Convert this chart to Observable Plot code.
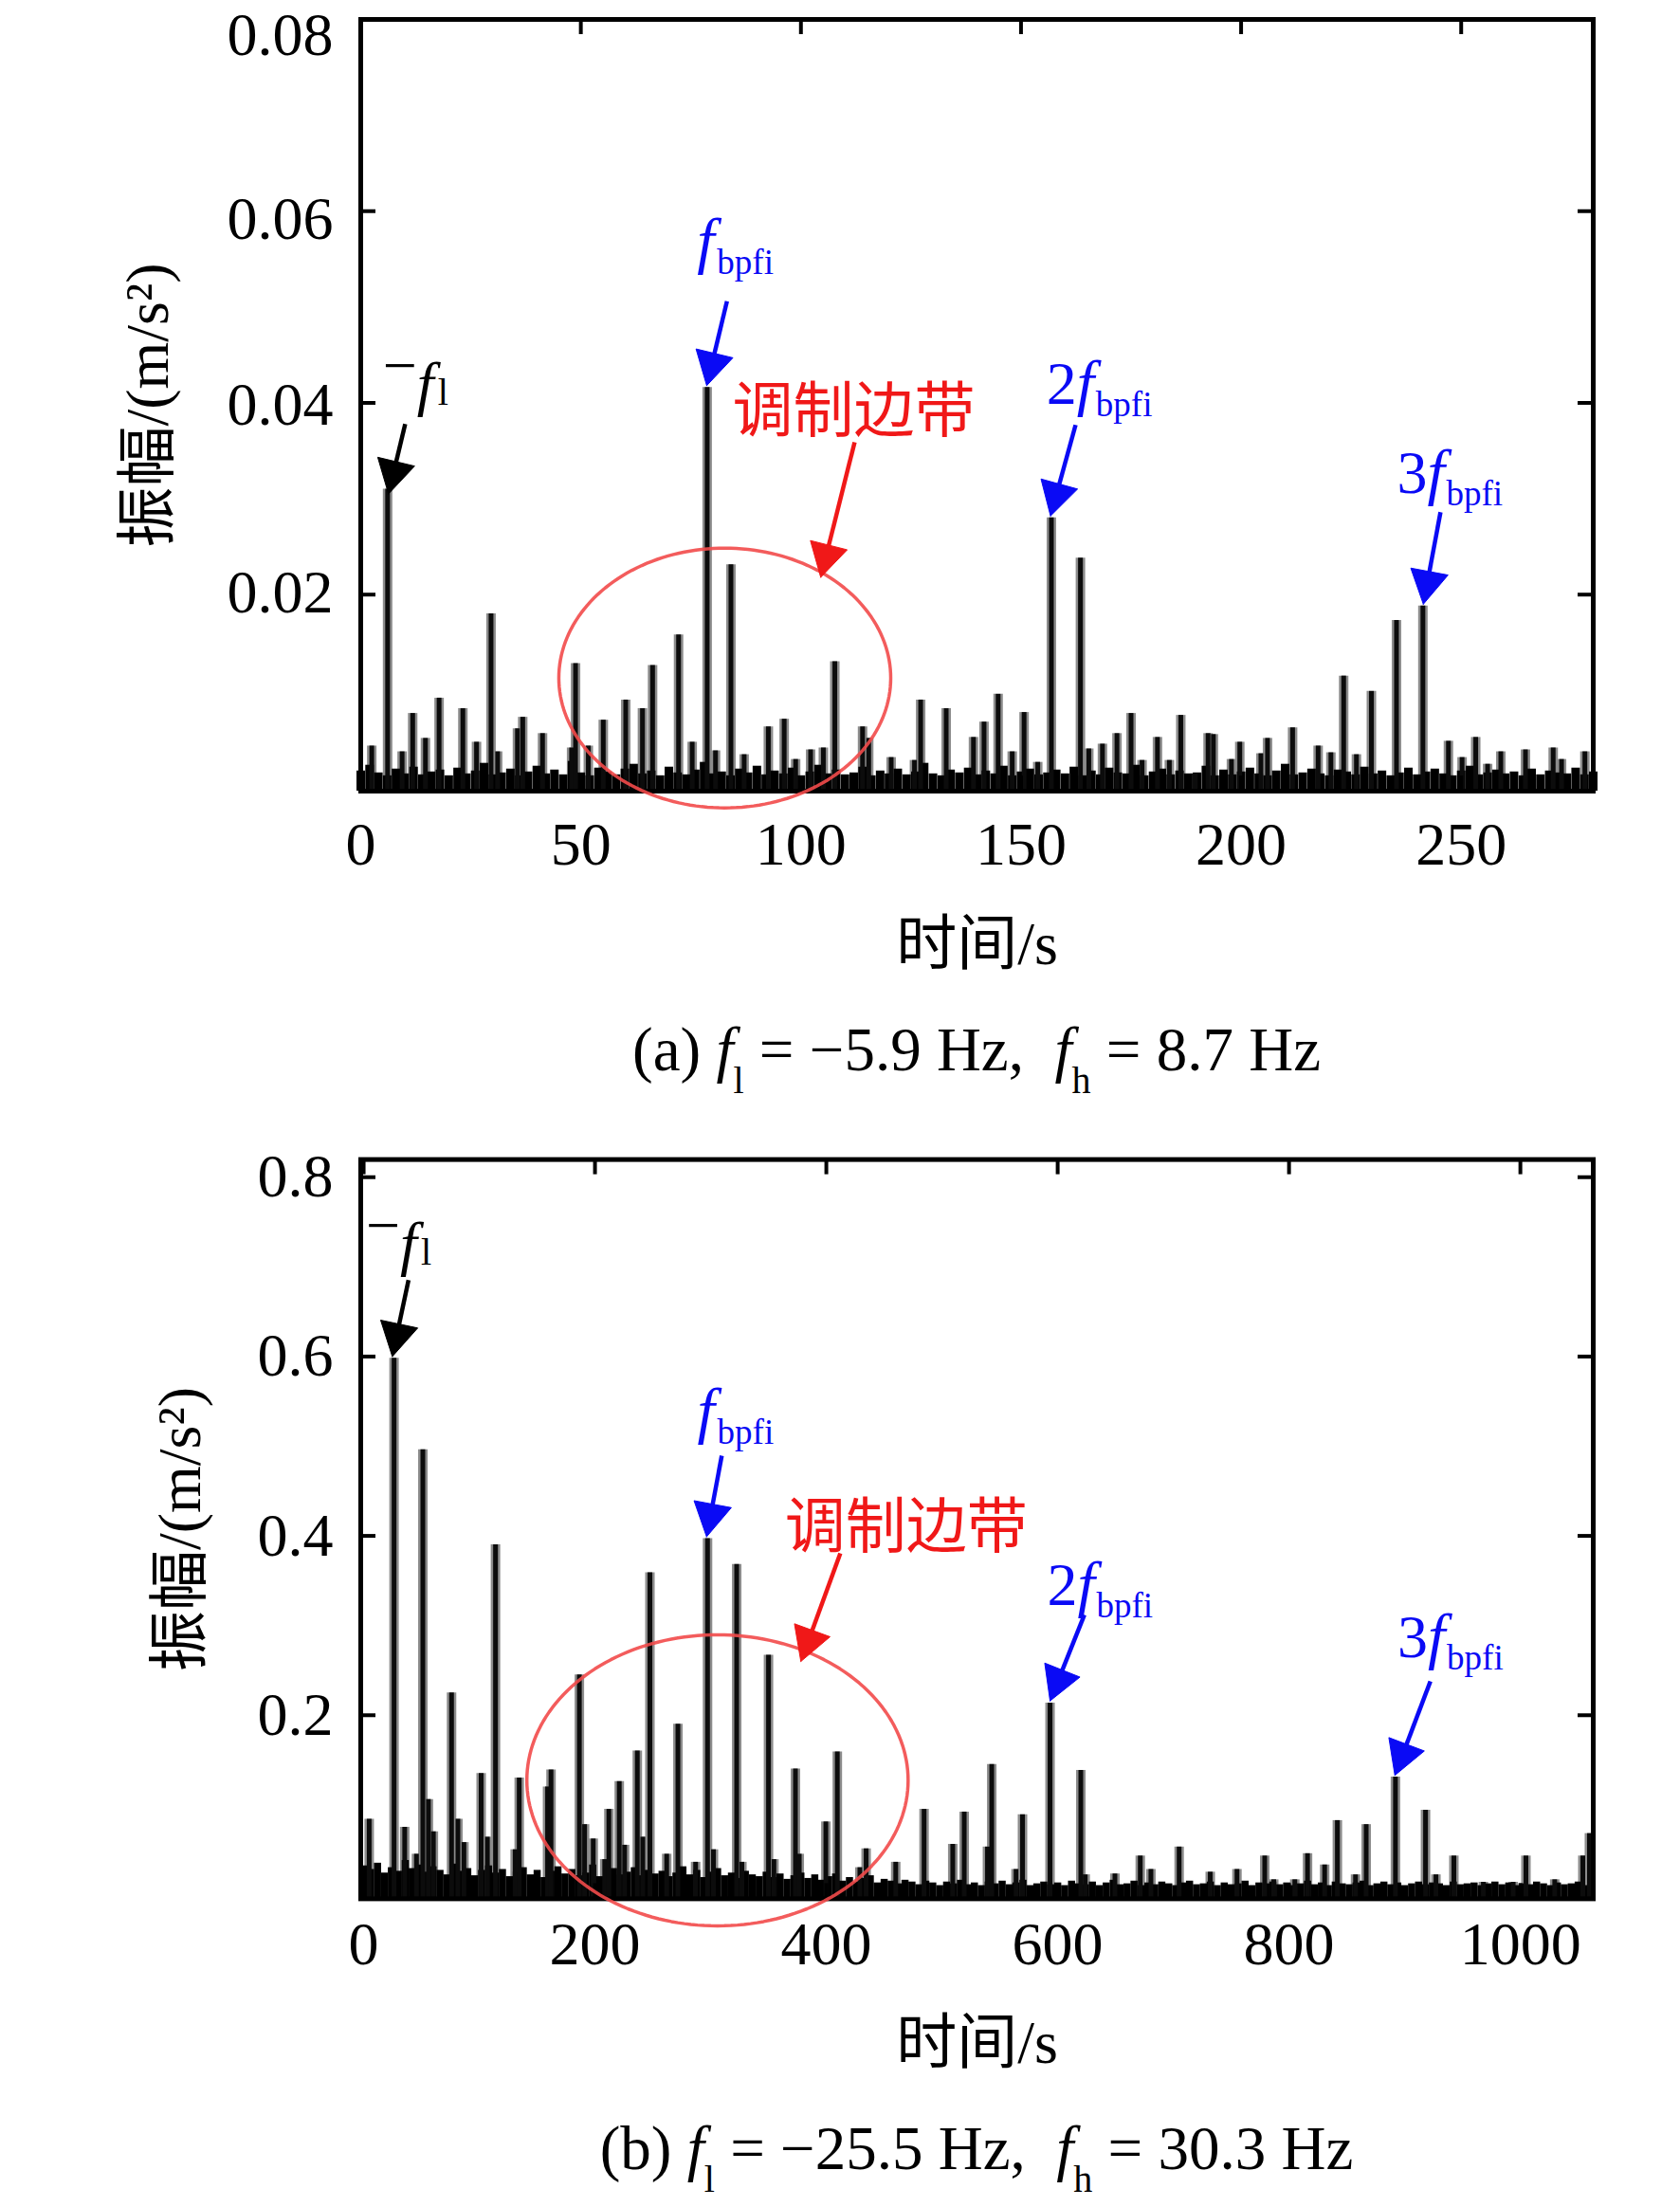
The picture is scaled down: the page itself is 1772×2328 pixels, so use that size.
<!DOCTYPE html>
<html><head><meta charset="utf-8">
<script src="https://cdn.jsdelivr.net/npm/d3@7"></script>
<script src="https://cdn.jsdelivr.net/npm/@observablehq/plot@0.6"></script>
<style>
html,body{margin:0;padding:0;background:#fff;}
#root{position:relative;width:1772px;height:2328px;background:#fff;overflow:hidden;font-family:'Liberation Serif','Noto Sans CJK SC',serif;}
.panel{position:absolute;left:0;}
.cap{position:absolute;left:380px;width:1300px;text-align:center;font-size:65px;line-height:64px;color:#000;white-space:nowrap;}
.cap i{font-style:italic;}
.cap sub{font-size:40px;vertical-align:-0.6em;line-height:0;}
</style>
</head><body>
<div id="root"></div>
<script>
// ---------- Panel (a) data ----------
const aPeakX = [2.5,6.1,9.4,11.8,14.7,17.8,23.2,26.3,29.6,31.1,35.6,36.8,41.3,47.9,48.8,51.7,55.1,60.2,64.0,66.3,72.2,75.3,78.7,80.6,84.1,87.1,92.6,96.2,98.8,102.2,105.1,107.7,114,115.4,120.5,125.8,127.2,133,139.2,141.6,144.8,148,150.7,153.8,156.9,163.5,165.4,168.5,171.8,175,177.5,181,183.7,186.3,189.6,192.5,193.7,197.8,199.7,204.5,206,211.7,217.5,220.4,223.3,226.2,229.6,235.3,241.3,247.1,250.2,253.3,256,259,264.6,270.9,272.8,278.1];
const aPeakY = [0.0042,0.031,0.0036,0.0076,0.005,0.0092,0.0081,0.0046,0.018,0.0036,0.006,0.0072,0.0055,0.004,0.0128,0.0042,0.0069,0.009,0.0081,0.0126,0.0158,0.0046,0.0416,0.0037,0.0231,0.0033,0.0062,0.007,0.0028,0.0038,0.004,0.013,0.0062,0.005,0.003,0.0027,0.009,0.0081,0.0051,0.0067,0.0096,0.0036,0.0077,0.0025,0.028,0.0238,0.0039,0.0044,0.0055,0.0076,0.0027,0.0051,0.0027,0.0074,0.0013,0.0055,0.0054,0.0028,0.0046,0.0034,0.005,0.0061,0.0042,0.0035,0.0115,0.0033,0.0099,0.0173,0.0188,0.0047,0.003,0.0051,0.0023,0.0036,0.0038,0.004,0.0028,0.0036];
const aFloorStep = 2;
const aFloor = [
0.0016,0.0022,0.0014,0.0011,0.0018,0.0013,0.0020,0.0012,0.0015,0.0017,
0.0011,0.0019,0.0013,0.0016,0.0024,0.0012,0.0014,0.0018,0.0011,0.0015,
0.0021,0.0013,0.0017,0.0012,0.0026,0.0014,0.0011,0.0019,0.0015,0.0012,
0.0018,0.0023,0.0013,0.0016,0.0011,0.0020,0.0014,0.0012,0.0017,0.0025,
0.0013,0.0015,0.0011,0.0018,0.0014,0.0021,0.0012,0.0016,0.0013,0.0019,
0.0011,0.0015,0.0022,0.0013,0.0017,0.0012,0.0014,0.0020,0.0011,0.0016,
0.0013,0.0018,0.0012,0.0015,0.0024,0.0013,0.0011,0.0017,0.0014,0.0019,
0.0012,0.0016,0.0013,0.0021,0.0011,0.0015,0.0018,0.0012,0.0014,0.0017,
0.0013,0.0020,0.0011,0.0016,0.0012,0.0019,0.0014,0.0013,0.0022,0.0011,
0.0015,0.0018,0.0012,0.0016,0.0013,0.0014,0.0021,0.0011,0.0017,0.0012,
0.0015,0.0019,0.0013,0.0011,0.0016,0.0023,0.0012,0.0014,0.0018,0.0013,
0.0011,0.0017,0.0015,0.0012,0.0020,0.0013,0.0016,0.0011,0.0014,0.0019,
0.0012,0.0015,0.0018,0.0013,0.0011,0.0016,0.0021,0.0012,0.0014,0.0017,
0.0013,0.0015,0.0011,0.0018,0.0012,0.0016,0.0014,0.0013,0.0019,0.0012,
0.0015];
const aXTicks = [0,50,100,150,200,250];
const aYTicks = [0.02,0.04,0.06,0.08];

// ---------- Panel (b) data ----------
const bPeakX = [4.8,26.3,35.5,45.7,51.2,56,60.3,76,81.5,86.7,101.6,107,114,131,134.5,159,162,186.5,191,198.5,208.4,212,221,225.6,236.6,241.3,247.5,262,271.7,287,297.3,302.4,322.5,327,350,354.7,373.3,376.6,399.6,409.5,429,434.4,460,484.5,509.3,519.2,539.3,543,564,569.6,593.4,620,623.8,649.5,671.4,680.6,705,731.9,755,779,786.8,805,816,830.8,841.8,857.5,866.7,892,918,927,942.5,968,993.8,1004.8,1029.7,1054,1059.7];
const bPeakY = [0.084,0.598,0.075,0.045,0.496,0.106,0.07,0.225,0.084,0.058,0.135,0.064,0.39,0.05,0.13,0.12,0.139,0.245,0.078,0.062,0.039,0.095,0.126,0.055,0.16,0.064,0.359,0.045,0.19,0.036,0.397,0.05,0.368,0.036,0.267,0.039,0.14,0.045,0.081,0.159,0.03,0.051,0.036,0.095,0.056,0.092,0.053,0.145,0.028,0.089,0.2135,0.1385,0.022,0.023,0.043,0.028,0.053,0.025,0.028,0.043,0.0165,0.0165,0.0456,0.033,0.0825,0.022,0.078,0.131,0.094,0.022,0.043,0.0137,0.0137,0.043,0.0165,0.043,0.068];
const bFloorStep = 6;
const bFloor = [
0.032,0.028,0.035,0.024,0.030,0.026,0.038,0.029,0.033,0.025,
0.031,0.027,0.022,0.034,0.026,0.029,0.021,0.027,0.032,0.024,
0.028,0.020,0.025,0.030,0.022,0.027,0.019,0.026,0.031,0.023,
0.028,0.021,0.024,0.033,0.020,0.026,0.029,0.022,0.025,0.030,
0.021,0.027,0.023,0.026,0.020,0.024,0.031,0.022,0.027,0.019,
0.025,0.029,0.021,0.024,0.018,0.026,0.022,0.020,0.025,0.019,
0.023,0.017,0.021,0.024,0.018,0.022,0.016,0.020,0.023,0.015,
0.019,0.014,0.018,0.021,0.013,0.017,0.015,0.012,0.016,0.014,
0.011,0.015,0.013,0.010,0.014,0.012,0.016,0.011,0.013,0.010,
0.014,0.012,0.015,0.011,0.013,0.016,0.010,0.012,0.014,0.011,
0.013,0.010,0.015,0.012,0.011,0.014,0.010,0.013,0.016,0.011,
0.012,0.015,0.010,0.013,0.011,0.014,0.012,0.010,0.013,0.015,
0.011,0.012,0.014,0.010,0.013,0.011,0.012,0.015,0.010,0.013,
0.012,0.014,0.011,0.013,0.010,0.012,0.015,0.011,0.013,0.010,
0.014,0.012,0.011,0.013,0.015,0.010,0.012,0.014,0.011,0.013,
0.010,0.012,0.014,0.011,0.013,0.012,0.010,0.014,0.011,0.012,
0.013,0.010,0.012,0.014,0.011,0.013,0.010,0.012,0.011,0.014,
0.012,0.010,0.013,0.011,0.012,0.014,0.010,0.013];
const bXTicks = [0,200,400,600,800,1000];
const bYTicks = [0.2,0.4,0.6,0.8];

// ---------- text ----------
const yLabel = "振幅/(m/s²)";
const xLabel = "时间/s";
const sideband = "调制边带";

// ---------- annotations (data coordinates) ----------
const aAnno = {
  minusF: {x:5.0, y:0.0399, tail:[10.1,0.0378], tip:[6.3,0.0305]},
  f1: {x:74.7, y:0.0547, tail:[83.2,0.0506], tip:[78.6,0.0418]},
  f2: {x:155.8, y:0.0399, tail:[162.4,0.0377], tip:[156.7,0.0282]},
  f3: {x:235.4, y:0.0306, tail:[245.3,0.0286], tip:[241.4,0.0190]},
  sb: {x:112, y:0.0370, tail:[112.2,0.0359], tip:[104.5,0.0218]},
  ell: {cx:82.7, cy:0.0113, rx:37.7, ry:0.01355}
};
const bAnno = {
  minusF: {x:2.1, y:0.703, tail:[38.8,0.6853], tip:[24.8,0.600]},
  f1: {x:282, y:0.516, tail:[309.6,0.4894], tip:[296.5,0.399]},
  f2: {x:590.9, y:0.3224, tail:[623.1,0.312], tip:[593.4,0.216]},
  f3: {x:893.8, y:0.265, tail:[922.2,0.2378], tip:[891.5,0.133]},
  sb: {x:469, y:0.387, tail:[412.1,0.3805], tip:[378,0.26]},
  ell: {cx:305.9, cy:0.1274, rx:164.8, ry:0.1623}
};

const FONT = "'Liberation Serif','Noto Sans CJK SC',serif";
const BLUE = "#0a0af5", RED = "#f01818";

function textPart(x, y, t, {dx=0, base=0, fs=64, italic=false, fill="#000", anchor="start"}={}) {
  return Plot.text([{x, y}], {x:"x", y:"y", text: () => t, textAnchor: anchor, lineAnchor: "bottom",
    dx, dy: base, fontSize: fs, fontStyle: italic ? "italic" : "normal", fill, fontFamily: FONT});
}

function arrowMarks(tail, tip, color, sx, sy) {
  const T = [sx(tip[0]), sy(tip[1])], S = [sx(tail[0]), sy(tail[1])];
  const vx = T[0]-S[0], vy = T[1]-S[1], L = Math.hypot(vx, vy);
  const ux = vx/L, uy = vy/L, nx = -uy, ny = ux;
  const headL = 35, headW = 40;
  const B = [T[0]-ux*headL, T[1]-uy*headL];
  const tri = [T, [B[0]+nx*headW/2, B[1]+ny*headW/2], [B[0]-nx*headW/2, B[1]-ny*headW/2], T]
    .map(p => ({x: sx.invert(p[0]), y: sy.invert(p[1])}));
  return [
    Plot.link([{x1: tail[0], y1: tail[1], x2: sx.invert(B[0]+ux*4), y2: sy.invert(B[1]+uy*4)}],
      {x1:"x1", y1:"y1", x2:"x2", y2:"y2", stroke: color, strokeWidth: 4.5}),
    Plot.line(tri, {x:"x", y:"y", fill: color, stroke: color, strokeWidth: 1})
  ];
}

function panel(cfg) {
  const width = 1772, {height, mt, mb, ml, mr, xd, yd, anno} = cfg;
  const iw = width - ml - mr, ih = height - mt - mb;
  const sx = d3.scaleLinear(xd, [ml, width - mr]);
  const sy = d3.scaleLinear(yd, [height - mb, mt]);
  const peaks = cfg.px.map((x, i) => ({x, y: cfg.py[i]}));
  const floor = cfg.floor.map((v, i) => ({x: i * cfg.step, y: v}));
  const ellipse = d3.range(0, 181).map(k => {
    const t = k / 180 * 2 * Math.PI;
    return {x: anno.ell.cx + anno.ell.rx * Math.cos(t), y: anno.ell.cy + anno.ell.ry * Math.sin(t)};
  });
  const yAxes = cfg.yt.map((t, i) => Plot.axisY([t], {tickSize: 0, tickPadding: 29, label: null, fontSize: 64,
    dy: cfg.ytdy[i], tickFormat: cfg.yfmt}));
  const marks = [
    Plot.ruleX(peaks, {x:"x", y1: yd[0], y2:"y", stroke:"#8c8c8c", strokeWidth: 10}),
    Plot.ruleX(floor, {x:"x", y1: yd[0], y2:"y", stroke:"#000", strokeWidth: cfg.floorW}),
    Plot.ruleX(peaks, {x:"x", y1: yd[0], y2:"y", stroke:"#0c0c0c", strokeWidth: 5}),
    Plot.ruleY(cfg.yt, {y: d => d, stroke:"#000", strokeWidth: 4, insetRight: iw - 16}),
    Plot.ruleY(cfg.yt, {y: d => d, stroke:"#000", strokeWidth: 4, insetLeft: iw - 16}),
    Plot.ruleX(cfg.xt, {x: d => d, stroke:"#000", strokeWidth: 4, insetBottom: ih - 16}),
    Plot.ruleX(cfg.xt, {x: d => d, stroke:"#000", strokeWidth: 4, insetTop: ih - 16}),
    Plot.frame({stroke:"#000", strokeWidth: 5}),
    Plot.axisX(cfg.xt, {tickSize: 0, tickPadding: cfg.xpad, label: null, fontSize: 64, tickFormat: d => String(d)}),
    ...yAxes,
    Plot.text([xLabel], {frameAnchor: "bottom", text: d => d, dy: cfg.xlabDy, fontSize: 64, lineAnchor: "middle", fontFamily: FONT}),
    Plot.text([yLabel], {frameAnchor: "left", text: d => d, rotate: -90, dx: cfg.ylabX - ml, fontSize: 64, lineAnchor: "middle", textAnchor: "middle", fontFamily: FONT}),
    Plot.line(ellipse, {x:"x", y:"y", stroke: "#f24a4a", strokeWidth: 3.5, strokeOpacity: 0.9}),
    // arrows
    ...arrowMarks(anno.minusF.tail, anno.minusF.tip, "#000", sx, sy),
    ...arrowMarks(anno.f1.tail, anno.f1.tip, BLUE, sx, sy),
    ...arrowMarks(anno.f2.tail, anno.f2.tip, BLUE, sx, sy),
    ...arrowMarks(anno.f3.tail, anno.f3.tip, BLUE, sx, sy),
    ...arrowMarks(anno.sb.tail, anno.sb.tip, RED, sx, sy),
    // labels
    textPart(anno.minusF.x, anno.minusF.y, "−", {dx: 0, base: -19}),
    textPart(anno.minusF.x, anno.minusF.y, "f", {dx: 36, italic: true}),
    textPart(anno.minusF.x, anno.minusF.y, "l", {dx: 58, base: 1, fs: 40}),
    textPart(anno.f1.x, anno.f1.y, "f", {dx: 8, italic: true, fill: BLUE, fs: 66}),
    textPart(anno.f1.x, anno.f1.y, "bpfi", {dx: 29, base: 13, fs: 37, fill: BLUE}),
    textPart(anno.f2.x, anno.f2.y, "2", {dx: 0, fill: BLUE}),
    textPart(anno.f2.x, anno.f2.y, "f", {dx: 32, italic: true, fill: BLUE, fs: 66}),
    textPart(anno.f2.x, anno.f2.y, "bpfi", {dx: 52, base: 13, fs: 37, fill: BLUE}),
    textPart(anno.f3.x, anno.f3.y, "3", {dx: 0, fill: BLUE}),
    textPart(anno.f3.x, anno.f3.y, "f", {dx: 32, italic: true, fill: BLUE, fs: 66}),
    textPart(anno.f3.x, anno.f3.y, "bpfi", {dx: 52, base: 13, fs: 37, fill: BLUE}),
    textPart(anno.sb.x, anno.sb.y, sideband, {anchor: "middle", fill: RED, fs: 64})
  ];
  return Plot.plot({
    width, height, marginTop: mt, marginBottom: mb, marginLeft: ml, marginRight: mr,
    x: {domain: xd, axis: null},
    y: {domain: yd, axis: null},
    style: {fontFamily: FONT, fontSize: "64px", color: "#000", background: "transparent", overflow: "visible"},
    marks
  });
}

const root = document.getElementById("root");

const pa = panel({height: 1040, mt: 20, mb: 206, ml: 380, mr: 92, xd: [0, 280], yd: [-0.0005, 0.08],
  px: aPeakX, py: aPeakY, floor: aFloor, step: aFloorStep, floorW: 9,
  xt: aXTicks, yt: aYTicks, yfmt: d3.format(".2f"), ytdy: [-2, 3, 9, 17], xpad: 32, xlabDy: 162, ylabX: 156, anno: aAnno});
const wa = document.createElement("div"); wa.className = "panel"; wa.style.top = "0px"; wa.appendChild(pa); root.appendChild(wa);

const pb = panel({height: 1010, mt: 22.6, mb: 207.6, ml: 380, mr: 92, xd: [-2.5, 1063], yd: [-0.0047, 0.8197],
  px: bPeakX, py: bPeakY, floor: bFloor, step: bFloorStep, floorW: 7.5,
  xt: bXTicks, yt: bYTicks, yfmt: d3.format(".1f"), ytdy: [0, 0, 0, 0], xpad: 24, xlabDy: 153, ylabX: 190, anno: bAnno});
const wb = document.createElement("div"); wb.className = "panel"; wb.style.top = "1200px"; wb.appendChild(pb); root.appendChild(wb);

const ca = document.createElement("div"); ca.className = "cap"; ca.style.top = "1075px";
ca.innerHTML = "(a) <i>f</i><sub>l</sub> = −5.9 Hz,&nbsp; <i>f</i><sub>h</sub> = 8.7 Hz";
root.appendChild(ca);
const cb = document.createElement("div"); cb.className = "cap"; cb.style.top = "2234px";
cb.innerHTML = "(b) <i>f</i><sub>l</sub> = −25.5 Hz,&nbsp; <i>f</i><sub>h</sub> = 30.3 Hz";
root.appendChild(cb);
</script>
</body></html>
